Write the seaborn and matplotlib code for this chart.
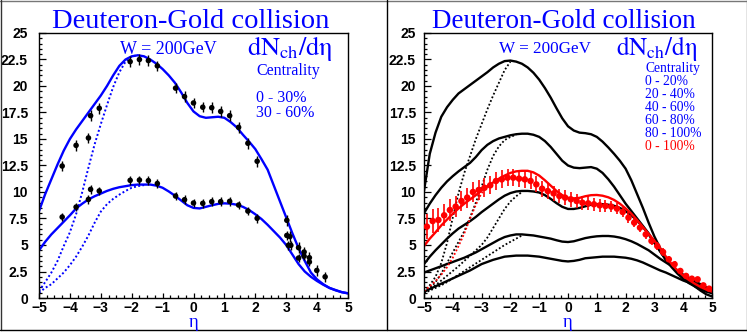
import matplotlib
matplotlib.use("Agg")
import matplotlib.pyplot as plt
from matplotlib.ticker import MultipleLocator, FuncFormatter
from matplotlib.lines import Line2D
import seaborn as sns

# === common eta grid for the model curves (step 0.2) ===
eta_grid = [-5.0, -4.8, -4.6, -4.4, -4.2, -4.0, -3.8, -3.6, -3.4, -3.2,
            -3.0, -2.8, -2.6, -2.4, -2.2, -2.0, -1.8, -1.6, -1.4, -1.2,
            -1.0, -0.8, -0.6, -0.4, -0.2, 0.0, 0.2, 0.4, 0.6, 0.8,
            1.0, 1.2, 1.4, 1.6, 1.8, 2.0, 2.2, 2.4, 2.6, 2.8,
            3.0, 3.2, 3.4, 3.6, 3.8, 4.0, 4.2, 4.4, 4.6, 4.8, 5.0]

# === Left panel: measured points ===
eta_30 = [-4.25, -3.8, -3.4, -3.33, -3.05, -2.05, -1.75, -1.46, -1.17, -0.58, -0.29, 0.0, 0.3, 0.59,
          0.88, 1.17, 1.46, 1.76, 2.06, 3.02, 3.12, 3.4, 3.58, 3.75, 3.99, 4.26]
dn_30 = [12.45, 14.4, 15.1, 17.2, 17.9, 22.3, 22.5, 22.4, 21.9, 19.8, 19.0, 18.4, 18.0, 17.95,
         17.6, 17.2, 16.1, 14.6, 12.9, 7.33, 5.8, 4.75, 4.34, 3.8, 2.6, 2.0]
eta_60 = [-4.25, -3.8, -3.4, -3.33, -3.05, -2.05, -1.75, -1.46, -1.17, -0.58, -0.29, 0.0, 0.3, 0.59,
          0.88, 1.17, 1.46, 1.76, 2.06, 3.02, 3.07, 3.15, 3.4, 3.58, 3.75]
dn_60 = [7.64, 8.58, 9.3, 10.25, 10.1, 11.1, 11.13, 11.07, 10.8, 9.62, 9.27, 8.96, 8.93, 9.09,
         9.09, 9.12, 8.77, 8.2, 7.52, 5.9, 4.97, 4.97, 3.77, 3.95, 3.4]
err_30 = 0.5
err_60 = 0.4

# === Left panel: model curves (on eta_grid) ===
fit_30 = [8.2, 9.8, 11.2, 12.6, 13.9, 15.0, 15.9, 16.7, 17.5, 18.3,
          19.1, 20.0, 21.0, 21.9, 22.5, 22.8, 22.9, 22.8, 22.5, 22.1,
          21.6, 21.0, 20.3, 19.4, 18.4, 17.6, 17.15, 17.0, 17.05, 17.1,
          17.0, 16.6, 16.1, 15.4, 14.75, 14.05, 13.1, 12.1, 10.6, 9.1,
          7.6, 6.1, 4.7, 3.5, 2.4, 1.75, 1.3, 0.95, 0.72, 0.55, 0.44]
fit_60 = [4.5, 5.3, 6.0, 6.6, 7.2, 7.8, 8.45, 8.9, 9.3, 9.6,
          9.85, 10.1, 10.3, 10.45, 10.55, 10.65, 10.7, 10.7, 10.7, 10.6,
          10.4, 10.05, 9.65, 9.2, 8.75, 8.5, 8.45, 8.6, 8.75, 8.88,
          8.93, 8.9, 8.8, 8.6, 8.3, 7.9, 7.45, 6.9, 6.3, 5.7,
          5.0, 4.1, 3.2, 2.5, 2.0, 1.6, 1.25, 0.95, 0.75, 0.55, 0.44]
dot_30 = [0.66, 1.5, 2.4, 3.5, 4.9, 6.2, 7.9, 10.0, 12.3, 14.5,
          16.4, 18.2, 19.9, 21.3, 22.3, 22.8, 22.9]
dot_60 = [0.5, 0.95, 1.3, 1.85, 2.4, 3.1, 3.9, 4.85, 5.9, 7.1,
          8.15, 8.85, 9.35, 9.75, 10.1, 10.4, 10.55, 10.65]

# === Right panel: centrality curves (on eta_grid) ===
r1 = [10.1, 13.6, 15.6, 17.1, 18.0, 18.7, 19.3, 19.7, 20.1, 20.5,
      20.9, 21.3, 21.75, 22.1, 22.35, 22.4, 22.3, 22.1, 21.75, 21.25,
      20.6, 19.8, 18.9, 17.9, 16.95, 16.2, 15.8, 15.6, 15.55, 15.45,
      15.2, 14.75, 14.2, 13.6, 12.95, 12.2, 11.1, 9.8, 8.5, 7.1,
      5.8, 4.7, 3.8, 3.1, 2.5, 2.0, 1.55, 1.1, 0.7, 0.35, 0.15]
r2 = [8.0, 8.9, 9.7, 10.4, 11.0, 11.5, 11.95, 12.35, 12.75, 13.3,
      13.95, 14.45, 14.8, 15.05, 15.2, 15.35, 15.45, 15.5, 15.5, 15.4,
      15.2, 14.8, 14.25, 13.6, 12.95, 12.5, 12.3, 12.25, 12.3, 12.35,
      12.2, 11.8, 11.2, 10.5, 9.7, 8.9, 8.2, 7.5, 6.8, 6.1,
      5.2, 4.4, 3.6, 3.0, 2.5, 2.05, 1.7, 1.4, 1.1, 0.8, 0.5]
r3 = [3.2, 3.9, 4.5, 5.05, 5.6, 6.1, 6.55, 6.9, 7.25, 7.65,
      8.1, 8.5, 8.9, 9.3, 9.65, 9.9, 10.05, 10.1, 10.1, 10.05,
      9.95, 9.7, 9.35, 8.95, 8.6, 8.4, 8.4, 8.5, 8.65, 8.8,
      8.85, 8.85, 8.8, 8.7, 8.5, 8.2, 7.8, 7.3, 6.7, 6.0,
      5.2, 4.4, 3.6, 2.9, 2.3, 1.8, 1.4, 1.1, 0.8, 0.6, 0.45]
r4 = [2.4, 2.6, 2.8, 3.0, 3.2, 3.4, 3.6, 3.8, 4.05, 4.3,
      4.6, 4.9, 5.2, 5.5, 5.75, 5.9, 6.0, 6.0, 5.95, 5.9,
      5.8, 5.7, 5.6, 5.45, 5.32, 5.28, 5.35, 5.5, 5.65, 5.75,
      5.82, 5.85, 5.85, 5.8, 5.7, 5.55, 5.35, 5.1, 4.8, 4.5,
      4.1, 3.7, 3.35, 3.0, 2.6, 2.2, 1.9, 1.6, 1.3, 1.0, 0.72]
r5 = [0.57, 0.85, 1.1, 1.35, 1.6, 1.85, 2.1, 2.35, 2.6, 2.9,
      3.2, 3.4, 3.6, 3.75, 3.9, 3.95, 4.0, 4.0, 4.0, 3.95,
      3.9, 3.8, 3.7, 3.6, 3.5, 3.45, 3.5, 3.6, 3.75, 3.8,
      3.85, 3.9, 3.9, 3.9, 3.85, 3.8, 3.7, 3.55, 3.35, 3.1,
      2.85, 2.6, 2.4, 2.15, 1.9, 1.65, 1.45, 1.2, 1.0, 0.8, 0.57]
d1 = [0.6, 1.2, 2.0, 3.3, 5.2, 7.6, 9.9, 11.8, 13.4, 15.0, 16.4, 17.8, 19.1, 20.3, 21.5, 22.3]
d2 = [0.55, 0.95, 1.5, 2.3, 3.3, 4.3, 5.3, 6.3, 7.6, 9.0, 10.5, 12.1, 13.4, 14.3, 14.9, 15.2, 15.4]
d3 = [0.5, 0.85, 1.2, 1.65, 2.1, 2.55, 3.0, 3.5, 4.0, 4.5, 5.0, 5.7, 6.6, 7.5, 8.4, 9.1, 9.6, 10.0]
d4 = [0.45, 0.7, 0.95, 1.2, 1.5, 1.85, 2.2, 2.55, 2.9, 3.25, 3.6, 3.95, 4.3, 4.65, 5.0, 5.3, 5.6, 5.9]

# === Right panel: minimum bias (0 - 100%) ===
rr = [4.9, 5.6, 6.2, 6.85, 7.4, 7.95, 8.45, 8.9, 9.3, 9.7,
      10.15, 10.55, 10.9, 11.25, 11.55, 11.8, 11.95, 12.0, 12.0, 11.85,
      11.55, 11.1, 10.6, 10.1, 9.7, 9.45, 9.4, 9.45, 9.6, 9.7,
      9.72, 9.65, 9.5, 9.25, 8.9, 8.45, 7.95, 7.35, 6.7, 6.05,
      5.4, 4.7, 3.9, 3.2, 2.6, 2.1, 1.7, 1.35, 1.05, 0.8, 0.6]
rd = [0.66, 1.1, 1.6, 2.2, 2.9, 3.8, 4.9, 6.1, 7.5, 8.8, 9.9, 10.5, 10.9]

eta_mb = [-4.9, -4.7, -4.5, -4.3, -4.1, -3.9, -3.7, -3.5, -3.3, -3.1, -2.9, -2.7, -2.5, -2.3, -2.1,
          -1.9, -1.7, -1.5, -1.3, -1.1, -0.9, -0.7, -0.5, -0.3, -0.1, 0.1, 0.3, 0.5, 0.7, 0.9,
          1.1, 1.3, 1.5, 1.7, 1.9, 2.1, 2.3, 2.5, 2.7, 2.9, 3.1, 3.3, 3.5, 3.7, 3.9, 4.1, 4.3,
          4.5, 4.7, 4.9]
dn_mb = [6.73, 7.26, 7.36, 7.8, 8.3, 8.62, 9.15, 9.47, 10.0, 10.19, 10.4, 10.63, 11.04, 11.19, 11.35,
         11.35, 11.26, 11.19, 11.04, 10.72, 10.31, 10.09, 9.87, 9.62, 9.47, 9.31, 9.15, 8.99, 8.93,
         8.84, 8.74, 8.68, 8.62, 8.43, 8.11, 7.58, 7.11, 6.64, 6.0, 5.38, 4.9, 4.34, 3.65, 3.18,
         2.55, 2.08, 1.82, 1.76, 1.19, 0.88]
err_mb = [1.2, 1.15, 1.1, 1.05, 1.0, 1.0, 0.95, 0.95, 0.9, 0.9, 0.9, 0.85, 0.85, 0.85, 0.8,
          0.8, 0.8, 0.8, 0.8, 0.75, 0.75, 0.75, 0.7, 0.7, 0.7, 0.7, 0.65, 0.65, 0.65, 0.6,
          0.6, 0.6, 0.55, 0.55, 0.5, 0.5, 0.45, 0.45, 0.4, 0.4, 0.35, 0.35, 0.3, 0.3, 0.25,
          0.25, 0.2, 0.2, 0.2, 0.2]

cent_left = ["0 - 30%", "30 - 60%"]
cent_right = ["0 - 20%", "20 - 40%", "40 - 60%", "60 - 80%", "80 - 100%"]

# === Figure setup ===
sns.set_style("ticks")
plt.rcParams["font.family"] = ["Liberation Sans", "DejaVu Sans"]
plt.rcParams["mathtext.fontset"] = "stix"

W, H = 747, 332
fig = plt.figure(figsize=(W / 100, H / 100), dpi=100)


def fx(px):
    return px / W


def fy(py):
    return 1 - py / H


ax1 = fig.add_axes([fx(39), fy(298), (348 - 39) / W, (298 - 33) / H])
ax2 = fig.add_axes([fx(424), fy(298), (712 - 424) / W, (298 - 33) / H])

blue = "#0000ff"
serif = ["Liberation Serif", "DejaVu Serif"]
dot = (0, (1, 1.2))


def curve(ax, vals, color, lw=1.7, ls="-"):
    sns.lineplot(x=eta_grid[:len(vals)], y=vals, ax=ax, color=color, linewidth=lw, linestyle=ls)


# --- left panel ---
curve(ax1, fit_30, blue)
curve(ax1, fit_60, blue)
curve(ax1, dot_30, blue, 1.4, dot)
curve(ax1, dot_60, blue, 1.4, dot)
ax1.errorbar(eta_30, dn_30, yerr=err_30, fmt="none", ecolor="black", elinewidth=1, capsize=0)
ax1.errorbar(eta_60, dn_60, yerr=err_60, fmt="none", ecolor="black", elinewidth=1, capsize=0)
sns.scatterplot(x=eta_30, y=dn_30, ax=ax1, color="black", s=16, edgecolor="none", zorder=5)
sns.scatterplot(x=eta_60, y=dn_60, ax=ax1, color="black", s=16, edgecolor="none", zorder=5)

# --- right panel ---
for vals in [r1, r2, r3, r4, r5]:
    curve(ax2, vals, "black")
for vals in [d1, d2, d3, d4]:
    curve(ax2, vals, "black", 1.3, dot)
curve(ax2, rr, "red")
curve(ax2, rd, "red", 1.3, dot)
ax2.errorbar(eta_mb, dn_mb, yerr=err_mb, fmt="none", ecolor="red", elinewidth=1.2, capsize=0)
sns.scatterplot(x=eta_mb, y=dn_mb, ax=ax2, color="red", s=22, edgecolor="none", zorder=5)


def style_axes(ax, ypad):
    ax.set_xlim(-5, 5)
    ax.set_ylim(0, 25)
    ax.set_xlabel("")
    ax.set_ylabel("")
    ax.xaxis.set_major_locator(MultipleLocator(1))
    ax.xaxis.set_minor_locator(MultipleLocator(0.25))
    ax.yaxis.set_major_locator(MultipleLocator(2.5))
    ax.yaxis.set_minor_locator(MultipleLocator(0.5))
    ax.yaxis.set_major_formatter(FuncFormatter(lambda v, p: f"{v:g}"))
    ax.tick_params(which="both", direction="in", top=False, right=False, width=0.9, colors="black")
    ax.tick_params(axis="y", which="major", length=5, pad=ypad, labelsize=10)
    ax.tick_params(axis="y", which="minor", length=2.5)
    ax.tick_params(axis="x", which="major", length=3.6, pad=2, labelsize=10)
    ax.tick_params(axis="x", which="minor", length=2.2)
    for lab in ax.get_xticklabels() + ax.get_yticklabels():
        lab.set_fontweight("bold")
    for sp in ax.spines.values():
        sp.set_visible(True)
        sp.set_linewidth(1.0)
        sp.set_color("black")


style_axes(ax1, 8)
style_axes(ax2, 5.8)

# --- texts ---
fig.text(fx(191), fy(28), "Deuteron-Gold collision", color=blue, family=serif,
         fontsize=20.5, ha="center", va="baseline")
fig.text(fx(564), fy(28), "Deuteron-Gold collision", color=blue, family=serif,
         fontsize=19.5, ha="center", va="baseline")
fig.text(fx(120), fy(54), "W = 200GeV", color=blue, family=serif, fontsize=13, va="baseline")
fig.text(fx(499), fy(53), "W = 200GeV", color=blue, family=serif, fontsize=12.3, va="baseline")
fig.text(fx(247), fy(55), r"$\mathrm{dN_{ch}/d\eta}$", color=blue, fontsize=19, va="baseline")
fig.text(fx(616), fy(55), r"$\mathrm{dN_{ch}/d\eta}$", color=blue, fontsize=18, va="baseline")

fig.text(fx(256), fy(75), "Centrality", color=blue, family=serif, fontsize=11.5, va="baseline")
for i, lab in enumerate(cent_left):
    fig.text(fx(256), fy(102 + 15 * i), lab, color=blue, family=serif, fontsize=11.5,
             va="baseline")

fig.text(fx(645), fy(72), "Centrality", color=blue, family=serif, fontsize=9.8, va="baseline")
for i, lab in enumerate(cent_right):
    fig.text(fx(645), fy(85 + 13 * i), lab, color=blue, family=serif, fontsize=9.8,
             va="baseline")
fig.text(fx(645), fy(150), "0 - 100%", color="red", family=serif, fontsize=9.8, va="baseline")

fig.text(fx(193.5), fy(327), "η", color=blue, family=serif, fontsize=13.5, ha="center",
         va="baseline")
fig.text(fx(568), fy(327), "η", color=blue, family=serif, fontsize=13.5, ha="center",
         va="baseline")

# --- pad borders ---
fig.add_artist(Line2D([0, 1], [fy(0.5), fy(0.5)], color="#777777", lw=1))
fig.add_artist(Line2D([fx(0.5), fx(0.5)], [fy(0), fy(330)], color="#333333", lw=1))
fig.add_artist(Line2D([fx(746.5), fx(746.5)], [fy(0), fy(330)], color="#777777", lw=1))
fig.add_artist(Line2D([0, 1], [fy(329.5), fy(329.5)], color="black", lw=1))
fig.add_artist(Line2D([fx(387), fx(387)], [fy(0), fy(330)], color="black", lw=1))

fig.savefig("out.png", dpi=100)
